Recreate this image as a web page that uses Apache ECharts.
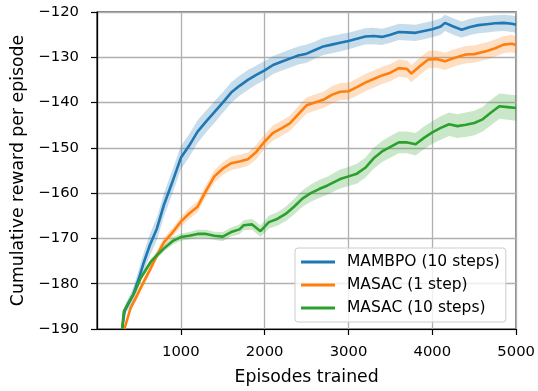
<!DOCTYPE html>
<html>
<head>
<meta charset="utf-8">
<script src="https://cdn.jsdelivr.net/npm/echarts@6/dist/echarts.min.js"></script>
<style>
  html, body { margin: 0; padding: 0; background: #fff; }
  #chart { width: 538px; height: 391px; }
</style>
</head>
<body>
<div id="chart"></div>
<script>
  // x ticks / y ticks
  var xTicks = [1000, 2000, 3000, 4000, 5000];
  var yTicks = [-190, -180, -170, -160, -150, -140, -130, -120];

  var names = ['MAMBPO (10 steps)', 'MASAC (1 step)', 'MASAC (10 steps)'];

  // MAMBPO (10 steps)
  var mambpoX = [300, 330, 430, 500, 560, 630, 715, 800, 900, 1000, 1100, 1200, 1300, 1400, 1500, 1600, 1700, 1800, 1900, 2000, 2100,
    2200, 2300, 2400, 2500, 2600, 2700, 2800, 2900, 3000, 3100, 3200, 3300, 3400, 3500, 3600, 3700, 3800, 3900, 4000, 4100,
    4150, 4250, 4350, 4450, 4550, 4650, 4750, 4850, 4950, 5000];
  var mambpoY = [-190, -186, -182.5, -178.8, -175.2, -171.5, -167.8, -162.5, -157.5, -152.2, -149.5, -146.4, -144.2, -142.1, -140, -137.8, -136.3, -135, -133.9, -132.9, -131.7,
    -131, -130.3, -129.6, -129.2, -128.4, -127.6, -127.2, -126.8, -126.4, -125.9, -125.4, -125.3, -125.5, -125, -124.4, -124.5, -124.6, -124.2, -123.8, -123.2,
    -122.4, -123.2, -123.9, -123.3, -122.9, -122.7, -122.5, -122.4, -122.6, -122.8];
  var mambpoSd = [0.3, 1, 1.5, 2, 2.2, 2.4, 2.5, 2.6, 2.6, 2.6, 2.5, 2.5, 2.4, 2.4, 2.3, 2.3, 2.2, 2.2, 2.1, 2.1, 2,
    2, 2, 2, 2, 1.9, 1.9, 1.9, 1.9, 1.8, 1.8, 1.8, 1.8, 1.8, 1.8, 1.8, 1.8, 1.8, 1.8, 1.8, 1.8,
    1.8, 1.8, 1.8, 1.8, 1.8, 1.8, 1.8, 1.8, 1.8, 1.8];

  // MASAC (1 step)
  var masac1X = [327, 400, 480, 560, 640, 715, 800, 900, 1000, 1100, 1200, 1300, 1400, 1500, 1600, 1700, 1800, 1900, 2000, 2100, 2200,
    2300, 2400, 2500, 2600, 2700, 2800, 2900, 3000, 3100, 3200, 3300, 3400, 3500, 3600, 3700, 3750, 3850, 3950, 4050, 4150,
    4250, 4400, 4500, 4650, 4750, 4850, 4950, 5000];
  var masac1Y = [-190, -185.4, -182.5, -179.5, -176.6, -173.7, -170.8, -168.7, -166.3, -164.5, -163, -159.5, -156.3, -154.6, -153.4, -153, -152.5, -150.9, -148.6, -146.7, -145.7,
    -144.6, -142.6, -140.6, -140, -139.4, -138.3, -137.6, -137.5, -136.6, -135.6, -134.8, -134, -133.4, -132.4, -132.6, -133.6, -132, -130.5, -130.4, -130.9,
    -130.2, -129.4, -129.3, -128.6, -128, -127.2, -127, -127.3];
  var masac1Sd = [0.3, 0.7, 0.8, 0.8, 0.9, 0.9, 1, 1, 1.1, 1.2, 1.2, 1.3, 1.4, 1.4, 1.5, 1.5, 1.5, 1.6, 1.6, 1.7, 1.7,
    1.7, 1.8, 1.8, 1.8, 1.8, 1.9, 1.9, 1.9, 1.9, 1.9, 1.9, 1.9, 1.9, 1.9, 1.9, 1.9, 1.9, 1.9, 1.9, 1.9,
    1.9, 1.9, 1.9, 1.9, 1.9, 1.9, 1.9, 1.9];

  // MASAC (10 steps)
  var masac10X = [300, 320, 380, 440, 520, 640, 700, 800, 900, 1000, 1100, 1200, 1300, 1400, 1500, 1600, 1700, 1750, 1850, 1950,
    2050, 2150, 2250, 2350, 2450, 2550, 2650, 2750, 2900, 3000, 3100, 3200, 3300, 3400, 3500, 3600, 3700, 3800, 3900, 4000,
    4100, 4200, 4300, 4400, 4500, 4600, 4700, 4800, 4900, 5000];
  var masac10Y = [-190, -186.1, -184, -182.2, -178.8, -175.2, -174, -172.2, -170.6, -169.7, -169.4, -169, -169, -169.4, -169.6, -168.6, -168, -167.1, -166.9, -168.4,
    -166.4, -165.7, -164.6, -163, -161.2, -160, -159.1, -158.3, -156.9, -156.3, -155.7, -154.4, -152.3, -150.8, -149.8, -148.8, -148.8, -149.2, -147.8, -146.6,
    -145.6, -144.8, -145.2, -144.9, -144.5, -143.7, -142.2, -140.8, -141, -141.2];
  var masac10Sd = [0.3, 0.5, 0.6, 0.6, 0.6, 0.6, 0.7, 0.7, 0.8, 0.8, 0.8, 0.9, 0.9, 0.9, 1, 1, 1.1, 1.1, 1.2, 1.3,
    1.4, 1.5, 1.6, 1.7, 1.8, 1.9, 2, 2, 2.1, 2.1, 2.2, 2.2, 2.3, 2.3, 2.4, 2.4, 2.4, 2.5, 2.5, 2.5,
    2.6, 2.6, 2.6, 2.7, 2.7, 2.7, 2.8, 2.8, 2.8, 2.8];

  var colors = ['#1f77b4', '#ff7f0e', '#2ca02c'];
  var FONT = 'DejaVu Sans';

  function pairs(xs, ys) {
    var out = [];
    for (var i = 0; i < xs.length; i++) out.push([xs[i], ys[i]]);
    return out;
  }

  function minus(v) {
    return String(v).replace('-', '\u2212');
  }

  // shaded band drawn as one polygon through the axes
  function band(xs, ys, sd, color) {
    return {
      type: 'custom',
      coordinateSystem: 'cartesian2d',
      clip: true,
      silent: true,
      z: 1,
      data: [[xs[0], ys[0]]],
      renderItem: function (params, api) {
        if (params.dataIndex !== 0) return;
        var pts = [];
        for (var i = 0; i < xs.length; i++) pts.push(api.coord([xs[i], ys[i] + sd[i]]));
        for (var j = xs.length - 1; j >= 0; j--) pts.push(api.coord([xs[j], ys[j] - sd[j]]));
        return {
          type: 'polygon',
          shape: { points: pts },
          style: { fill: color, opacity: 0.25 }
        };
      }
    };
  }

  function line(name, xs, ys, color) {
    return {
      name: name,
      type: 'line',
      data: pairs(xs, ys),
      showSymbol: false,
      symbol: 'none',
      z: 3,
      lineStyle: { color: color, width: 2.6 },
      itemStyle: { color: color }
    };
  }

  var myChart = echarts.init(document.getElementById('chart'));
  myChart.setOption({
    animation: false,
    textStyle: { fontFamily: FONT },
    grid: {
      left: 97, right: 21, top: 12, bottom: 60,
      show: true, borderColor: '#000', borderWidth: 1.2, backgroundColor: 'transparent'
    },
    legend: {
      data: names,
      orient: 'vertical',
      left: 295, top: 248,
      padding: [6, 6, 6, 6],
      itemGap: 7,
      itemWidth: 34,
      itemHeight: 3,
      icon: 'rect',
      backgroundColor: 'rgba(255,255,255,0.8)',
      borderColor: '#cccccc',
      borderWidth: 1,
      borderRadius: 3,
      textStyle: { fontFamily: FONT, fontSize: 15.5, color: '#000', lineHeight: 16, padding: [0, 0, 0, 7] }
    },
    xAxis: {
      type: 'value',
      min: 0, max: 5000, interval: 1000,
      name: 'Episodes trained',
      nameLocation: 'middle',
      nameGap: 40,
      nameTextStyle: { fontFamily: FONT, fontSize: 17.3, color: '#000' },
      axisLine: { show: true, onZero: false, lineStyle: { color: '#000', width: 1.2 } },
      axisTick: { show: true, length: 6, lineStyle: { color: '#000', width: 1.2 } },
      axisLabel: {
        showMinLabel: false, margin: 16, color: '#000', fontFamily: FONT, fontSize: 14.8,
        formatter: function (v) { return xTicks.indexOf(v) >= 0 ? minus(v) : ''; }
      },
      splitLine: { show: true, lineStyle: { color: '#b0b0b0', width: 1.3 } }
    },
    yAxis: {
      type: 'value',
      min: -190, max: -120, interval: 10,
      name: 'Cumulative reward per episode',
      nameLocation: 'middle',
      nameGap: 70,
      nameTextStyle: { fontFamily: FONT, fontSize: 17.3, color: '#000' },
      axisLine: { show: true, onZero: false, lineStyle: { color: '#000', width: 1.2 } },
      axisTick: { show: true, length: 6, lineStyle: { color: '#000', width: 1.2 } },
      axisLabel: {
        margin: 18, color: '#000', fontFamily: FONT, fontSize: 14.8,
        formatter: function (v) { return yTicks.indexOf(v) >= 0 ? minus(v) : ''; }
      },
      splitLine: { show: true, lineStyle: { color: '#b0b0b0', width: 1.3 } }
    },
    series: [
      band(mambpoX, mambpoY, mambpoSd, colors[0]),
      band(masac1X, masac1Y, masac1Sd, colors[1]),
      band(masac10X, masac10Y, masac10Sd, colors[2]),
      line(names[0], mambpoX, mambpoY, colors[0]),
      line(names[1], masac1X, masac1Y, colors[1]),
      line(names[2], masac10X, masac10Y, colors[2])
    ]
  });
</script>
</body>
</html>
